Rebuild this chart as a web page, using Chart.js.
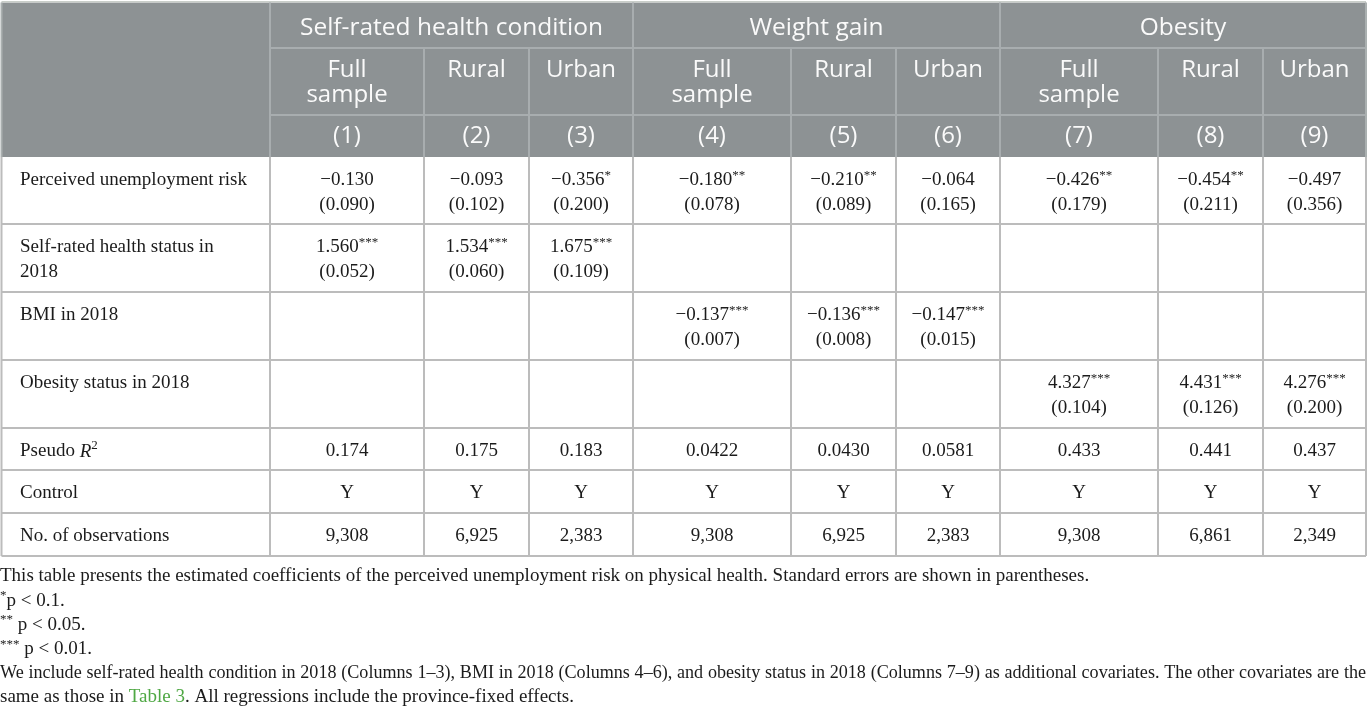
<!DOCTYPE html>
<html>
<head>
<meta charset="utf-8">
<script src="https://cdn.jsdelivr.net/npm/chart.js@4.4.0/dist/chart.umd.min.js"></script>
<style>
html,body{margin:0;padding:0;background:#ffffff;overflow:hidden}
#wrap{width:1369px;height:710px;position:relative}
</style>
</head>
<body>
<div id="wrap"><canvas id="c" width="1369" height="710"></canvas></div>
<script>
// ---------------- DATA ----------------
const outcomeGroups = ['Self-rated health condition', 'Weight gain', 'Obesity'];
const sampleLabels = ['Full sample', 'Rural', 'Urban', 'Full sample', 'Rural', 'Urban', 'Full sample', 'Rural', 'Urban'];
const columnNumbers = ['(1)', '(2)', '(3)', '(4)', '(5)', '(6)', '(7)', '(8)', '(9)'];
const rowLabels = ['Perceived unemployment risk', 'Self-rated health status in 2018', 'BMI in 2018',
  'Obesity status in 2018', 'Pseudo R2', 'Control', 'No. of observations'];

const riskCoef = [-0.130, -0.093, -0.356, -0.180, -0.210, -0.064, -0.426, -0.454, -0.497];
const riskSE = [0.090, 0.102, 0.200, 0.078, 0.089, 0.165, 0.179, 0.211, 0.356];
const riskStars = [0, 0, 1, 2, 2, 0, 2, 2, 0];

const healthCoef = [1.560, 1.534, 1.675, null, null, null, null, null, null];
const healthSE = [0.052, 0.060, 0.109, null, null, null, null, null, null];
const healthStars = [3, 3, 3, 0, 0, 0, 0, 0, 0];

const bmiCoef = [null, null, null, -0.137, -0.136, -0.147, null, null, null];
const bmiSE = [null, null, null, 0.007, 0.008, 0.015, null, null, null];
const bmiStars = [0, 0, 0, 3, 3, 3, 0, 0, 0];

const obesityCoef = [null, null, null, null, null, null, 4.327, 4.431, 4.276];
const obesitySE = [null, null, null, null, null, null, 0.104, 0.126, 0.200];
const obesityStars = [0, 0, 0, 0, 0, 0, 3, 3, 3];

const pseudoR2 = ['0.174', '0.175', '0.183', '0.0422', '0.0430', '0.0581', '0.433', '0.441', '0.437'];
const controlFlags = ['Y', 'Y', 'Y', 'Y', 'Y', 'Y', 'Y', 'Y', 'Y'];
const observations = [9308, 6925, 2383, 9308, 6925, 2383, 9308, 6861, 2349];

const noteMain = 'This table presents the estimated coefficients of the perceived unemployment risk on physical health. Standard errors are shown in parentheses.';
const noteStars = [['*', 'p < 0.1.'], ['**', ' p < 0.05.'], ['***', ' p < 0.01.']];
const noteCovariates = 'We include self-rated health condition in 2018 (Columns 1\u20133), BMI in 2018 (Columns 4\u20136), and obesity status in 2018 (Columns 7\u20139) as additional covariates. The other covariates are the';
const noteLastA = 'same as those in ';
const noteLink = 'Table 3';
const noteLastB = '. All regressions include the province-fixed effects.';

// ---------------- LAYOUT (positions/styles only) ----------------
const colEdges = [1.5, 270, 424, 529, 633, 791, 896, 1000, 1158, 1263, 1366];
const headEdges = [2.5, 48, 115, 157];
const bodyEdges = [157, 224, 292, 360, 428, 470, 513, 556];
const noteTop = 576.5, noteStep = 24.2;
const HEAD_BG = '#8d9294', HEAD_LINE = '#a8adaf', BODY_LINE = '#bcbcbc';
const SANS = '"Open Sans", "Noto Sans", sans-serif';
const SERIF = '"Liberation Serif", "Times New Roman", serif';

const MINUS = '\u2212';
const fmtCoef = v => (v < 0 ? MINUS : '') + Math.abs(v).toFixed(3);
const fmtSE = v => '(' + v.toFixed(3) + ')';
const fmtInt = v => v.toLocaleString('en-US');

const bodyRows = [
  {coef: riskCoef, se: riskSE, stars: riskStars},
  {coef: healthCoef, se: healthSE, stars: healthStars},
  {coef: bmiCoef, se: bmiSE, stars: bmiStars},
  {coef: obesityCoef, se: obesitySE, stars: obesityStars},
  {text: pseudoR2},
  {text: controlFlags},
  {text: observations.map(fmtInt)}
];

// invisible anchor points = cell centres (through the chart's scales)
const anchorPoints = [];
bodyRows.forEach((r, ri) => {
  for (let c = 0; c < 9; c++) anchorPoints.push({x: (colEdges[c + 1] + colEdges[c + 2]) / 2, y: bodyEdges[ri] + 23.5});
});

function richWidth(ctx, segs) {
  let w = 0;
  segs.forEach(s => { ctx.font = s.font; w += ctx.measureText(s.text).width; });
  return w;
}
function drawRich(ctx, segs, x, y, align, color) {
  const w = richWidth(ctx, segs);
  let cx = align === 'center' ? x - w / 2 : x;
  ctx.textAlign = 'left';
  ctx.textBaseline = 'middle';
  segs.forEach(s => {
    ctx.font = s.font;
    ctx.fillStyle = s.color || color;
    ctx.fillText(s.text, cx, y + (s.dy || 0));
    cx += ctx.measureText(s.text).width;
  });
}
function wrap(ctx, text, font, maxW) {
  ctx.font = font;
  const words = text.split(' ');
  const lines = [];
  let cur = '';
  words.forEach(wd => {
    const t = cur ? cur + ' ' + wd : wd;
    if (cur && ctx.measureText(t).width > maxW) { lines.push(cur); cur = wd; } else cur = t;
  });
  if (cur) lines.push(cur);
  return lines;
}

const tablePlugin = {
  id: 'tablePlugin',
  afterDraw(chart) {
    const ctx = chart.ctx;
    const sx = chart.scales.x, sy = chart.scales.y;
    const px = v => sx.getPixelForValue(v);
    const py = v => sy.getPixelForValue(v);
    const bodyFont = '19px ' + SERIF;
    const supFont = '13px ' + SERIF;
    const groupFont = '24.5px ' + SANS;
    const headFont = '24px ' + SANS;
    const headColor = '#fafafa';
    ctx.save();

    // header background
    ctx.fillStyle = HEAD_BG;
    ctx.fillRect(px(colEdges[0]), py(headEdges[0]), px(colEdges[10]) - px(colEdges[0]), py(headEdges[3]) - py(headEdges[0]));
    ctx.fillStyle = '#c9cec9';
    ctx.fillRect(px(colEdges[0]), py(headEdges[0]) - 1.5, px(colEdges[10]) - px(colEdges[0]), 1.5);

    // header lines
    ctx.strokeStyle = HEAD_LINE;
    ctx.lineWidth = 2;
    const line = (x1, y1, x2, y2) => { ctx.beginPath(); ctx.moveTo(px(x1), py(y1)); ctx.lineTo(px(x2), py(y2)); ctx.stroke(); };
    line(colEdges[1], headEdges[1], colEdges[10], headEdges[1]);
    line(colEdges[1], headEdges[2], colEdges[10], headEdges[2]);
    for (let c = 1; c < 10; c++) {
      const full = (c - 1) % 3 === 0;
      line(colEdges[c], full ? headEdges[0] : headEdges[1], colEdges[c], headEdges[3]);
    }

    // header texts
    outcomeGroups.forEach((g, gi) => {
      const cx = (px(colEdges[1 + gi * 3]) + px(colEdges[4 + gi * 3])) / 2;
      drawRich(ctx, [{text: g, font: groupFont}], cx, py(28), 'center', headColor);
    });
    sampleLabels.forEach((s, c) => {
      const cx = (px(colEdges[c + 1]) + px(colEdges[c + 2])) / 2;
      const lines = wrap(ctx, s, headFont, 95);
      lines.forEach((l, li) => drawRich(ctx, [{text: l, font: headFont}], cx, py(70.5 + li * 25), 'center', headColor));
      drawRich(ctx, [{text: columnNumbers[c], font: headFont}], cx, py(136.5), 'center', headColor);
    });

    // body lines
    ctx.strokeStyle = BODY_LINE;
    ctx.lineWidth = 2;
    for (let r = 1; r < bodyEdges.length; r++) line(colEdges[0], bodyEdges[r], colEdges[10], bodyEdges[r]);
    for (let c = 0; c < colEdges.length; c++) line(colEdges[c], bodyEdges[0], colEdges[c], bodyEdges[bodyEdges.length - 1]);
    ctx.strokeStyle = '#aab0b0';
    line(colEdges[0], headEdges[0], colEdges[0], bodyEdges[0]);
    line(colEdges[10], headEdges[0], colEdges[10], bodyEdges[0]);

    // row labels
    const txt = '#1b1b1b';
    rowLabels.forEach((lab, ri) => {
      const top = bodyEdges[ri];
      if (lab === 'Pseudo R2') {
        drawRich(ctx, [{text: 'Pseudo ', font: bodyFont}, {text: 'R', font: 'italic ' + bodyFont}, {text: '2', font: supFont, dy: -6}], px(20), py(top + 23.5), 'left', txt);
        return;
      }
      const lines = wrap(ctx, lab, bodyFont, 236);
      lines.forEach((l, li) => drawRich(ctx, [{text: l, font: bodyFont}], px(20), py(top + 23.5 + li * 25), 'left', txt));
    });

    // body values
    const meta = chart.getDatasetMeta(0);
    bodyRows.forEach((r, ri) => {
      for (let c = 0; c < 9; c++) {
        const el = meta.data[ri * 9 + c];
        const cx = el.x, cy = el.y;
        if (r.text) {
          drawRich(ctx, [{text: String(r.text[c]), font: bodyFont}], cx, cy, 'center', txt);
        } else if (r.coef[c] !== null) {
          const segs = [{text: fmtCoef(r.coef[c]), font: bodyFont}];
          if (r.stars[c]) segs.push({text: '*'.repeat(r.stars[c]), font: supFont, dy: -5});
          drawRich(ctx, segs, cx, cy, 'center', txt);
          drawRich(ctx, [{text: fmtSE(r.se[c]), font: bodyFont}], cx, cy + (py(25) - py(0)), 'center', txt);
        }
      }
    });

    // notes
    const noteFont = '19px ' + SERIF;
    const noteSup = '13px ' + SERIF;
    const nx = px(0);
    let ny = noteTop;
    drawRich(ctx, [{text: noteMain, font: noteFont}], nx, py(ny), 'left', txt);
    noteStars.forEach(([s, t]) => {
      ny += noteStep;
      drawRich(ctx, [{text: s, font: noteSup, dy: -5}, {text: t, font: noteFont}], nx, py(ny), 'left', txt);
    });
    // justified line: shrink font just enough so natural spacing fits, then justify
    ny += noteStep;
    const words = noteCovariates.split(' ');
    const avail = px(colEdges[10]) - nx;
    let fs = 19, jf, wsum, sp;
    for (;;) {
      jf = fs + 'px ' + SERIF;
      ctx.font = jf;
      wsum = words.reduce((a, w) => a + ctx.measureText(w).width, 0);
      sp = ctx.measureText(' ').width;
      if (wsum + sp * (words.length - 1) <= avail || fs <= 16) break;
      fs -= 0.1;
    }
    const gap = (avail - wsum) / (words.length - 1);
    let wx = nx;
    ctx.fillStyle = txt; ctx.textAlign = 'left'; ctx.textBaseline = 'middle';
    words.forEach(w => { ctx.fillText(w, wx, py(ny)); wx += ctx.measureText(w).width + gap; });
    ny += noteStep;
    drawRich(ctx, [{text: noteLastA, font: noteFont}, {text: noteLink, font: noteFont, color: '#4fa844'}, {text: noteLastB, font: noteFont}], nx, py(ny), 'left', txt);

    ctx.restore();
  }
};

new Chart(document.getElementById('c'), {
  type: 'scatter',
  data: {datasets: [{data: anchorPoints, pointRadius: 0, pointHoverRadius: 0, showLine: false}]},
  options: {
    responsive: false,
    animation: false,
    devicePixelRatio: 1,
    events: [],
    layout: {padding: 0},
    plugins: {legend: {display: false}, tooltip: {enabled: false}},
    scales: {
      x: {type: 'linear', min: 0, max: 1369, display: false},
      y: {type: 'linear', min: 0, max: 710, reverse: true, display: false}
    }
  },
  plugins: [tablePlugin]
});
</script>
</body>
</html>
